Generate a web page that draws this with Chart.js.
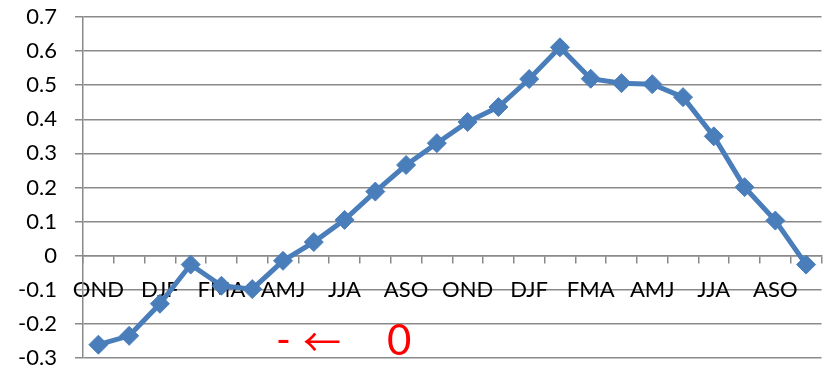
<!DOCTYPE html>
<html>
<head>
<meta charset="utf-8">
<script src="https://cdn.jsdelivr.net/npm/chart.js@4/dist/chart.umd.min.js"></script>
<style>
  html, body { margin: 0; padding: 0; background: #fff; }
  #wrap { width: 832px; height: 370px; position: relative; }
</style>
</head>
<body>
<div id="wrap"><canvas id="c" width="832" height="370"></canvas></div>
<script>
// Running three-month seasons, two years
const seasons = ['OND','NDJ','DJF','JFM','FMA','MAM','AMJ','MJJ','JJA','JAS','ASO','SON',
                 'OND','NDJ','DJF','JFM','FMA','MAM','AMJ','MJJ','JJA','JAS','ASO','SON'];
// Lagged correlation for each season
const values = [-0.261, -0.235, -0.141, -0.026, -0.088, -0.098, -0.015, 0.040, 0.105, 0.188, 0.266, 0.330,
                 0.392,  0.436,  0.518,  0.611,  0.519,  0.506,  0.503, 0.465, 0.350, 0.201, 0.103, -0.026];
// Value axis range
const yMin = -0.3;
const yMax = 0.7;
const yStep = 0.1;

const gridColor = '#8a8a8a';
const lineColor = '#4a7ebb';
const fontFamily = 'Lato, "Liberation Sans", sans-serif';

// Red note drawn under the value axis
const notePlugin = {
  id: 'note',
  afterDraw(chart) {
    const ctx = chart.ctx;
    ctx.save();
    ctx.fillStyle = '#ff0000';
    ctx.textBaseline = 'alphabetic';
    ctx.font = '40px Lato, "Noto Sans CJK SC", "DejaVu Sans", sans-serif';
    ctx.fillText('-', 276, 354);
    ctx.font = '38px "Noto Sans CJK SC", "DejaVu Sans", sans-serif';
    ctx.fillText('\u2190', 303, 356);
    ctx.font = '42px Lato, sans-serif';
    ctx.fillText('0', 387, 355);
    ctx.restore();
  }
};

new Chart(document.getElementById('c'), {
  type: 'line',
  data: {
    labels: seasons,
    datasets: [{
      data: values,
      borderColor: lineColor,
      backgroundColor: lineColor,
      borderWidth: 5,
      pointStyle: 'rectRot',
      pointRadius: 9.5,
      pointBorderWidth: 1,
      pointBackgroundColor: lineColor,
      pointBorderColor: lineColor,
      tension: 0,
      fill: false
    }]
  },
  options: {
    responsive: false,
    animation: false,
    devicePixelRatio: 1,
    layout: { padding: { left: 0, right: 2, top: 17, bottom: 12 } },
    plugins: { legend: { display: false }, tooltip: { enabled: false } },
    scales: {
      x: {
        type: 'category',
        position: { y: 0 },
        offset: true,
        afterFit(scale) {
          scale.height = 0;
          scale.paddingTop = 0;
          scale.paddingBottom = 0;
        },
        grid: {
          offset: true,
          drawOnChartArea: false,
          drawTicks: true,
          tickLength: 7,
          color: gridColor,
          lineWidth: 1.5
        },
        border: { display: true, color: gridColor, width: 1.5 },
        ticks: {
          autoSkip: false,
          maxRotation: 0,
          minRotation: 0,
          padding: 14,
          color: '#000',
          font: { family: fontFamily, size: 22 },
          callback(value, index) { return index % 2 === 0 ? seasons[index] : ''; }
        }
      },
      y: {
        min: yMin,
        max: yMax,
        afterFit(scale) {
          scale.width = 83;
          scale.paddingTop = 0;
          scale.paddingBottom = 0;
        },
        grid: {
          color: gridColor,
          lineWidth: 1.5,
          tickLength: 8
        },
        border: { display: true, color: gridColor, width: 1.5 },
        ticks: {
          stepSize: yStep,
          padding: 18,
          color: '#000',
          font: { family: fontFamily, size: 22 },
          callback(v) { return String(Number(v.toFixed(1))); }
        }
      }
    }
  },
  plugins: [notePlugin]
});
</script>
</body>
</html>
